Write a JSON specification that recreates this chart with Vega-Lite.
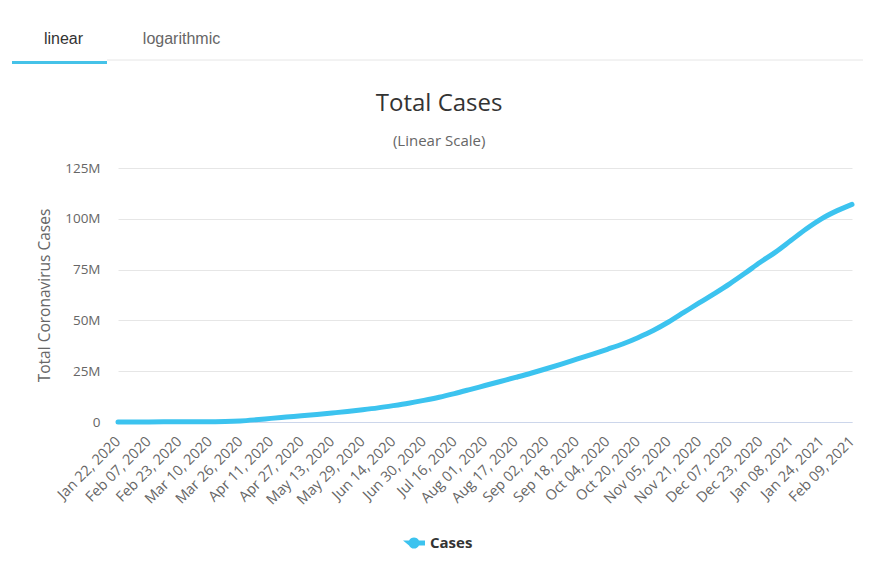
{
  "$schema": "https://vega.github.io/schema/vega-lite/v6.json",
  "background": "white",
  "padding": {"left": 12, "top": 14, "right": 10, "bottom": 5},
  "bounds": "flush",
  "spacing": 104,
  "config": {
    "view": {"stroke": null},
    "font": "Open Sans",
    "axis": {"labelFont": "Open Sans", "titleFont": "Open Sans"},
    "legend": {"labelFont": "Open Sans"}
  },
  "vconcat": [
    {
      "width": 734,
      "height": 50,
      "data": {"values": [
        {"tab": "linear", "state": "active"},
        {"tab": "logarithmic", "state": "inactive"}
      ]},
      "layer": [
        {
          "transform": [{"filter": "datum.state == 'active'"}],
          "mark": {"type": "rule", "color": "#e6e6e6", "strokeWidth": 1},
          "encoding": {
            "x": {"datum": 0, "type": "quantitative", "scale": {"domain": [0, 1], "range": [-11, 745]}, "axis": null},
            "x2": {"datum": 1},
            "y": {"datum": 4, "type": "quantitative", "scale": {"domain": [0, 50]}, "axis": null}
          }
        },
        {
          "transform": [{"filter": "datum.state == 'active'"}],
          "mark": {"type": "bar", "color": "#45c2e8"},
          "encoding": {
            "x": {"field": "tab", "type": "nominal", "scale": {"type": "band", "domain": ["linear", "logarithmic"], "range": [-106, 107], "paddingInner": 0.195, "paddingOuter": 0}, "axis": null},
            "y": {"datum": 0, "type": "quantitative", "scale": {"domain": [0, 50]}, "axis": null},
            "y2": {"datum": 3}
          }
        },
        {
          "transform": [{"filter": "datum.state == 'active'"}],
          "mark": {"type": "text", "font": "Liberation Sans", "fontSize": 16, "color": "#333333", "dx": 4},
          "encoding": {
            "x": {"field": "tab", "type": "nominal", "scale": {"type": "band", "domain": ["linear", "logarithmic"], "range": [-106, 107], "paddingInner": 0.195, "paddingOuter": 0}, "axis": null},
            "text": {"field": "tab"}
          }
        },
        {
          "transform": [{"filter": "datum.state == 'inactive'"}],
          "mark": {"type": "text", "font": "Liberation Sans", "fontSize": 16, "color": "#666666", "dx": 4},
          "encoding": {
            "x": {"field": "tab", "type": "nominal", "scale": {"type": "band", "domain": ["linear", "logarithmic"], "range": [-106, 107], "paddingInner": 0.195, "paddingOuter": 0}, "axis": null},
            "text": {"field": "tab"}
          }
        }
      ],
      "resolve": {"scale": {"x": "independent"}}
    },
    {
      "width": 734,
      "height": 254,
      "title": {
        "text": "Total Cases",
        "subtitle": "(Linear Scale)",
        "frame": "bounds",
        "anchor": "middle",
        "dx": -8,
        "font": "Open Sans",
        "fontSize": 24,
        "fontWeight": "normal",
        "color": "#333333",
        "subtitleFont": "Open Sans",
        "subtitleFontSize": 15,
        "subtitleColor": "#666666",
        "subtitlePadding": 18,
        "offset": 12
      },
      "data": {"values": [
        {"date": "2020-01-22", "cases": 580, "series": "Cases"},
        {"date": "2020-01-30", "cases": 8200, "series": "Cases"},
        {"date": "2020-02-07", "cases": 31500, "series": "Cases"},
        {"date": "2020-02-15", "cases": 69000, "series": "Cases"},
        {"date": "2020-02-23", "cases": 79000, "series": "Cases"},
        {"date": "2020-03-02", "cases": 90000, "series": "Cases"},
        {"date": "2020-03-10", "cases": 119000, "series": "Cases"},
        {"date": "2020-03-18", "cases": 220000, "series": "Cases"},
        {"date": "2020-03-26", "cases": 530000, "series": "Cases"},
        {"date": "2020-04-03", "cases": 1100000, "series": "Cases"},
        {"date": "2020-04-11", "cases": 1780000, "series": "Cases"},
        {"date": "2020-04-19", "cases": 2420000, "series": "Cases"},
        {"date": "2020-04-27", "cases": 3060000, "series": "Cases"},
        {"date": "2020-05-05", "cases": 3740000, "series": "Cases"},
        {"date": "2020-05-13", "cases": 4440000, "series": "Cases"},
        {"date": "2020-05-21", "cases": 5180000, "series": "Cases"},
        {"date": "2020-05-29", "cases": 6020000, "series": "Cases"},
        {"date": "2020-06-06", "cases": 6950000, "series": "Cases"},
        {"date": "2020-06-14", "cases": 8050000, "series": "Cases"},
        {"date": "2020-06-22", "cases": 9250000, "series": "Cases"},
        {"date": "2020-06-30", "cases": 10650000, "series": "Cases"},
        {"date": "2020-07-08", "cases": 12200000, "series": "Cases"},
        {"date": "2020-07-16", "cases": 14000000, "series": "Cases"},
        {"date": "2020-07-24", "cases": 15950000, "series": "Cases"},
        {"date": "2020-08-01", "cases": 17950000, "series": "Cases"},
        {"date": "2020-08-09", "cases": 19950000, "series": "Cases"},
        {"date": "2020-08-17", "cases": 21950000, "series": "Cases"},
        {"date": "2020-08-25", "cases": 24000000, "series": "Cases"},
        {"date": "2020-09-02", "cases": 26200000, "series": "Cases"},
        {"date": "2020-09-10", "cases": 28500000, "series": "Cases"},
        {"date": "2020-09-18", "cases": 30900000, "series": "Cases"},
        {"date": "2020-09-26", "cases": 33300000, "series": "Cases"},
        {"date": "2020-10-04", "cases": 35800000, "series": "Cases"},
        {"date": "2020-10-12", "cases": 38400000, "series": "Cases"},
        {"date": "2020-10-20", "cases": 41500000, "series": "Cases"},
        {"date": "2020-10-28", "cases": 45000000, "series": "Cases"},
        {"date": "2020-11-05", "cases": 49200000, "series": "Cases"},
        {"date": "2020-11-13", "cases": 53900000, "series": "Cases"},
        {"date": "2020-11-21", "cases": 58600000, "series": "Cases"},
        {"date": "2020-11-29", "cases": 63200000, "series": "Cases"},
        {"date": "2020-12-07", "cases": 68000000, "series": "Cases"},
        {"date": "2020-12-15", "cases": 73200000, "series": "Cases"},
        {"date": "2020-12-23", "cases": 78600000, "series": "Cases"},
        {"date": "2020-12-31", "cases": 83600000, "series": "Cases"},
        {"date": "2021-01-08", "cases": 89300000, "series": "Cases"},
        {"date": "2021-01-16", "cases": 95000000, "series": "Cases"},
        {"date": "2021-01-24", "cases": 100000000, "series": "Cases"},
        {"date": "2021-02-01", "cases": 103900000, "series": "Cases"},
        {"date": "2021-02-09", "cases": 107100000, "series": "Cases"}
      ]},
      "mark": {"type": "line", "strokeWidth": 5, "interpolate": "monotone", "strokeCap": "round", "strokeJoin": "round"},
      "encoding": {
        "x": {
          "field": "date",
          "type": "temporal",
          "scale": {
            "type": "utc",
            "nice": false,
            "domain": [
              {"year": 2020, "month": 1, "date": 22, "utc": true},
              {"year": 2021, "month": 2, "date": 9, "utc": true}
            ]
          },
          "axis": {
            "title": null,
            "format": "%b %d, %Y",
            "values": [
              {"year": 2020, "month": 1, "date": 22, "utc": true},
              {"year": 2020, "month": 2, "date": 7, "utc": true},
              {"year": 2020, "month": 2, "date": 23, "utc": true},
              {"year": 2020, "month": 3, "date": 10, "utc": true},
              {"year": 2020, "month": 3, "date": 26, "utc": true},
              {"year": 2020, "month": 4, "date": 11, "utc": true},
              {"year": 2020, "month": 4, "date": 27, "utc": true},
              {"year": 2020, "month": 5, "date": 13, "utc": true},
              {"year": 2020, "month": 5, "date": 29, "utc": true},
              {"year": 2020, "month": 6, "date": 14, "utc": true},
              {"year": 2020, "month": 6, "date": 30, "utc": true},
              {"year": 2020, "month": 7, "date": 16, "utc": true},
              {"year": 2020, "month": 8, "date": 1, "utc": true},
              {"year": 2020, "month": 8, "date": 17, "utc": true},
              {"year": 2020, "month": 9, "date": 2, "utc": true},
              {"year": 2020, "month": 9, "date": 18, "utc": true},
              {"year": 2020, "month": 10, "date": 4, "utc": true},
              {"year": 2020, "month": 10, "date": 20, "utc": true},
              {"year": 2020, "month": 11, "date": 5, "utc": true},
              {"year": 2020, "month": 11, "date": 21, "utc": true},
              {"year": 2020, "month": 12, "date": 7, "utc": true},
              {"year": 2020, "month": 12, "date": 23, "utc": true},
              {"year": 2021, "month": 1, "date": 8, "utc": true},
              {"year": 2021, "month": 1, "date": 24, "utc": true},
              {"year": 2021, "month": 2, "date": 9, "utc": true}
            ],
            "labelAngle": -45,
            "labelAlign": "right",
            "labelBaseline": "middle",
            "labelFontSize": 14.5,
            "labelColor": "#666666",
            "labelPadding": 17,
            "labelOverlap": false,
            "labelFlush": false,
            "grid": false,
            "ticks": false,
            "domainColor": "#ccd6eb",
            "domainWidth": 1
          }
        },
        "y": {
          "field": "cases",
          "type": "quantitative",
          "scale": {"domain": [0, 125000000], "nice": false},
          "axis": {
            "title": "Total Coronavirus Cases",
            "titleFontSize": 15.5,
            "titleFontWeight": "normal",
            "titleColor": "#666666",
            "titlePadding": 12,
            "values": [0, 25000000, 50000000, 75000000, 100000000, 125000000],
            "labelExpr": "datum.value == 0 ? '0' : format(datum.value / 1000000, 'd') + 'M'",
            "labelFontSize": 13.5,
            "labelColor": "#666666",
            "labelPadding": 18,
            "domain": false,
            "ticks": false,
            "gridColor": "#e6e6e6",
            "gridWidth": 1
          }
        },
        "color": {
          "field": "series",
          "type": "nominal",
          "scale": {"domain": ["Cases"], "range": ["#3cc3ef"]},
          "legend": {
            "title": null,
            "orient": "none",
            "legendX": 285,
            "legendY": 518,
            "direction": "horizontal",
            "labelFontSize": 15,
            "labelFontWeight": "bold",
            "labelColor": "#333333",
            "labelOffset": 5,
            "symbolType": "M-1,-0.22L-0.45,-0.22A0.5,0.5 0 0,1 0.45,-0.22L1,-0.22L1,0.22L0.45,0.22A0.5,0.5 0 0,1 -0.45,0.22Z",
            "symbolSize": 484,
            "symbolFillColor": "#3cc3ef",
            "symbolStrokeWidth": 0,
            "encode": {
              "symbols": {
                "update": {
                  "fill": {"value": "#3cc3ef"},
                  "fillOpacity": {"value": 1},
                  "strokeWidth": {"value": 0},
                  "opacity": {"value": 1}
                }
              }
            }
          }
        }
      }
    }
  ]
}
